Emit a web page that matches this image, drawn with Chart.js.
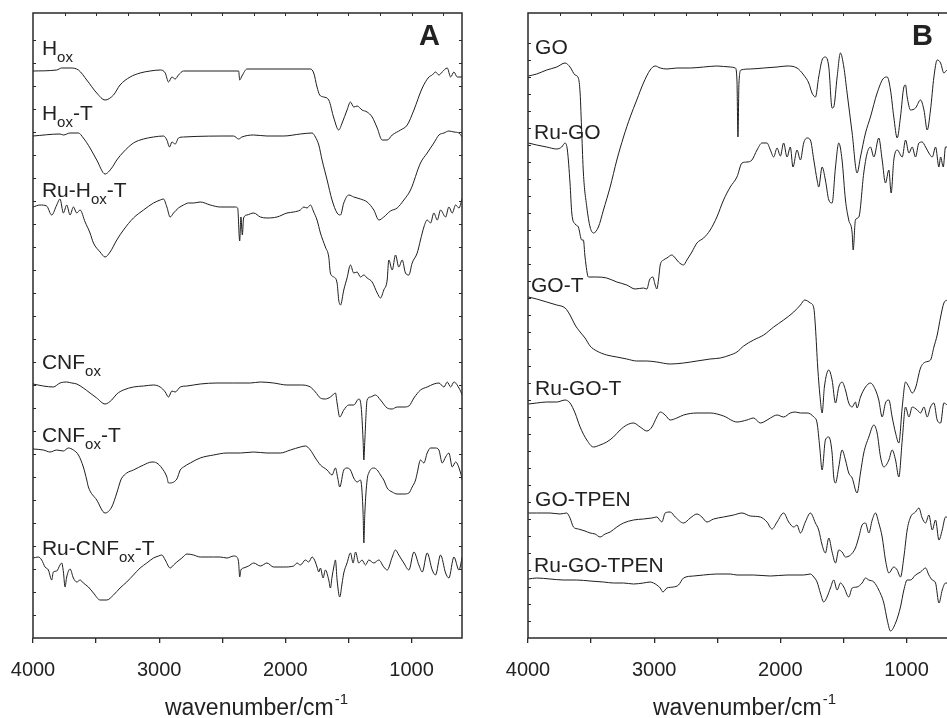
<!DOCTYPE html>
<html>
<head>
<meta charset="utf-8">
<script src="https://cdn.jsdelivr.net/npm/chart.js@4/dist/chart.umd.min.js"></script>
<style>
  html, body { margin: 0; padding: 0; background: #fff; overflow: hidden; }
  body { width: 947px; height: 718px; position: relative; }
  #wrapA { position: absolute; left: 0; top: 0; width: 470px; height: 718px; }
  #wrapB { position: absolute; left: 470px; top: 0; width: 490px; height: 718px; }
</style>
</head>
<body>
<div id="wrapA"><canvas id="chartA" width="470" height="718"></canvas></div>
<div id="wrapB"><canvas id="chartB" width="490" height="718"></canvas></div>
<script>
// ---------- Data (wavenumber in cm-1, transmittance in arbitrary offset units) ----------
const xMajorTicks = [4000, 3500, 3000, 2500, 2000, 1500, 1000];
const xTopTicks = [3750, 3500, 3250, 3000, 2750, 2500, 2250, 2000, 1750, 1500, 1250, 1000, 750];
const axisTitle = 'wavenumber/cm';
const axisTitleSup = '-1';

const namesA = ['H_{ox}', 'H_{ox}-T', 'Ru-H_{ox}-T', 'CNF_{ox}', 'CNF_{ox}-T', 'Ru-CNF_{ox}-T'];
const namesB = ['GO', 'Ru-GO', 'GO-T', 'Ru-GO-T', 'GO-TPEN', 'Ru-GO-TPEN'];

// Panel A
const hox = [[4000,567],[3812,568],[3773,570],[3706,570],[3640,568],[3574,558],[3495,545],[3429,538],[3362,543],[3310,553],[3230,561],[3151,565],[3071,567],[2992,568],[2952,565],[2926,556],[2899,561],[2873,559],[2847,563],[2807,567],[2370,567],[2362,558],[2344,562],[2304,569],[1802,569],[1775,565],[1749,551],[1728,543],[1696,541],[1656,538],[1616,520],[1577,508],[1550,515],[1511,528],[1484,536],[1458,531],[1431,532],[1392,528],[1352,526],[1312,521],[1272,510],[1233,498],[1193,498],[1153,503],[1087,508],[1034,513],[981,528],[915,550],[862,561],[836,563],[810,566],[783,563],[757,566],[717,570],[690,561],[664,566],[638,561],[598,561]];
const hoxT = [[4000,502],[3786,504],[3759,503],[3706,505],[3640,505],[3601,500],[3548,490],[3495,478],[3429,464],[3376,470],[3336,478],[3283,486],[3204,495],[3124,499],[3045,501],[2966,502],[2939,498],[2918,491],[2899,496],[2873,494],[2847,500],[2807,501],[2410,502],[2370,499],[2344,501],[2251,503],[2146,502],[2013,502],[1881,504],[1788,505],[1762,501],[1735,493],[1709,478],[1669,458],[1630,438],[1590,425],[1563,423],[1537,435],[1497,443],[1458,441],[1405,439],[1352,436],[1299,428],[1259,418],[1220,421],[1167,427],[1114,430],[1061,438],[1008,448],[929,475],[876,485],[823,495],[783,503],[743,505],[704,507],[664,506],[624,505],[598,501]];
const ruHoxT = [[4000,431],[3944,433],[3892,432],[3852,423],[3812,433],[3786,439],[3759,425],[3733,433],[3706,423],[3680,431],[3653,425],[3627,428],[3587,416],[3548,405],[3521,395],[3468,386],[3429,381],[3389,386],[3336,398],[3283,408],[3204,420],[3124,428],[3045,435],[2992,438],[2966,439],[2939,431],[2913,421],[2886,425],[2847,430],[2807,433],[2767,435],[2728,435],[2675,436],[2595,433],[2516,431],[2397,431],[2378,430],[2362,397],[2352,421],[2341,403],[2331,420],[2304,423],[2251,425],[2198,421],[2146,420],[2066,421],[1987,425],[1934,426],[1881,428],[1854,431],[1828,430],[1802,433],[1775,426],[1749,418],[1722,405],[1683,391],[1656,381],[1643,365],[1616,361],[1590,355],[1577,338],[1563,333],[1537,348],[1511,360],[1484,373],[1458,365],[1431,366],[1405,361],[1378,363],[1352,360],[1312,356],[1272,345],[1246,340],[1220,348],[1193,358],[1180,378],[1153,368],[1127,383],[1101,371],[1074,378],[1048,365],[1021,363],[995,375],[955,385],[929,398],[902,411],[876,418],[849,415],[823,425],[796,418],[770,428],[730,421],[704,431],[677,425],[651,433],[624,430],[598,440]];
const cnfox = [[4000,254],[3918,252],[3839,251],[3786,255],[3733,256],[3693,255],[3653,254],[3601,250],[3548,245],[3495,240],[3429,234],[3376,238],[3336,244],[3283,248],[3204,251],[3124,252],[3045,253],[2992,251],[2952,246],[2926,241],[2899,247],[2873,246],[2833,251],[2780,252],[2675,254],[2542,255],[2410,255],[2278,255],[2198,256],[2093,255],[1987,253],[1881,253],[1802,251],[1762,246],[1722,240],[1683,239],[1643,241],[1616,244],[1603,245],[1590,235],[1569,221],[1537,228],[1497,233],[1458,233],[1418,239],[1399,231],[1384,198],[1378,178],[1370,198],[1352,238],[1325,241],[1286,243],[1246,238],[1193,230],[1153,229],[1114,231],[1061,231],[1021,232],[981,240],[929,248],[876,251],[823,254],[783,255],[743,251],[717,256],[690,251],[664,256],[624,250],[598,243]];
const cnfoxT = [[4000,189],[3918,188],[3865,186],[3812,188],[3759,187],[3720,190],[3680,188],[3640,183],[3601,171],[3574,158],[3561,151],[3495,138],[3429,125],[3376,131],[3336,145],[3304,158],[3296,160],[3257,165],[3204,168],[3124,173],[3058,176],[3019,175],[2979,170],[2939,161],[2926,155],[2860,159],[2833,168],[2807,171],[2754,175],[2675,180],[2569,183],[2463,185],[2357,185],[2251,186],[2146,185],[2040,185],[1960,188],[1881,191],[1841,192],[1802,188],[1762,180],[1722,173],[1669,168],[1630,163],[1603,170],[1585,160],[1569,151],[1537,168],[1511,170],[1484,168],[1458,160],[1431,156],[1405,158],[1384,125],[1378,95],[1370,125],[1352,158],[1339,165],[1299,170],[1272,168],[1246,163],[1220,158],[1193,150],[1153,146],[1114,144],[1061,144],[1021,145],[995,151],[968,158],[955,165],[929,178],[902,175],[876,185],[849,190],[810,190],[783,188],[757,175],[730,181],[704,185],[677,171],[651,176],[611,165],[598,158]];
const ruCnfoxT = [[4000,80],[3958,81],[3931,78],[3905,71],[3878,68],[3852,58],[3839,66],[3812,67],[3786,73],[3772,75],[3759,66],[3746,51],[3733,61],[3706,69],[3680,60],[3653,56],[3627,58],[3601,55],[3561,51],[3521,45],[3468,38],[3415,38],[3362,43],[3310,50],[3257,56],[3204,63],[3151,70],[3098,75],[3045,80],[3005,82],[2979,83],[2952,78],[2913,70],[2886,73],[2860,76],[2820,80],[2780,84],[2728,83],[2675,81],[2569,81],[2516,81],[2463,80],[2410,82],[2384,81],[2370,75],[2362,61],[2352,68],[2331,70],[2291,72],[2251,75],[2198,72],[2146,75],[2093,71],[2013,71],[1934,72],[1907,75],[1881,73],[1841,78],[1815,76],[1788,81],[1762,76],[1749,71],[1735,66],[1722,70],[1701,60],[1683,68],[1656,58],[1643,50],[1630,61],[1616,71],[1603,78],[1590,58],[1569,41],[1550,55],[1537,65],[1511,75],[1484,85],[1463,75],[1444,86],[1418,75],[1392,78],[1365,73],[1339,78],[1299,75],[1259,78],[1220,71],[1193,68],[1153,81],[1127,88],[1101,83],[1061,75],[1021,68],[981,86],[942,73],[915,66],[876,85],[836,68],[810,63],[770,83],[730,65],[704,60],[664,81],[624,68],[598,81]];

// Panel B
const go = [[3997,562],[3931,564],[3852,568],[3772,571],[3706,575],[3667,571],[3627,563],[3601,560],[3587,545],[3574,505],[3561,465],[3534,431],[3508,411],[3481,405],[3442,411],[3402,428],[3349,451],[3296,478],[3243,501],[3190,521],[3138,538],[3085,555],[3032,568],[2992,572],[2952,570],[2899,569],[2820,570],[2714,570],[2608,571],[2503,572],[2397,571],[2357,570],[2344,558],[2336,501],[2328,555],[2312,568],[2238,569],[2132,570],[2026,571],[1947,572],[1868,570],[1815,563],[1775,555],[1749,545],[1722,541],[1696,561],[1669,578],[1643,581],[1616,571],[1590,530],[1577,531],[1550,561],[1524,585],[1497,571],[1471,545],[1431,505],[1392,465],[1365,481],[1325,505],[1286,521],[1233,545],[1180,560],[1153,561],[1127,548],[1101,521],[1074,500],[1048,521],[1021,551],[1008,553],[995,541],[968,528],[929,530],[889,538],[862,528],[836,508],[810,528],[783,561],[757,578],[730,575],[704,565],[677,568],[600,566]];
const ruGo = [[3997,495],[3931,493],[3852,491],[3772,489],[3733,491],[3706,495],[3688,488],[3667,455],[3653,425],[3627,414],[3601,411],[3574,398],[3561,398],[3548,381],[3521,361],[3455,361],[3376,360],[3296,356],[3217,353],[3151,349],[3085,350],[3058,349],[3037,358],[3011,361],[2992,353],[2979,349],[2966,358],[2952,373],[2926,378],[2899,380],[2860,383],[2833,380],[2807,376],[2767,373],[2741,378],[2701,386],[2661,395],[2608,400],[2556,408],[2503,421],[2450,438],[2397,451],[2344,461],[2304,475],[2265,476],[2225,478],[2185,488],[2145,495],[2106,495],[2079,488],[2053,481],[2026,490],[2000,482],[1974,495],[1947,481],[1921,491],[1900,471],[1868,488],[1841,478],[1815,495],[1788,500],[1762,498],[1735,478],[1709,458],[1696,451],[1669,471],[1643,458],[1616,438],[1590,435],[1563,471],[1537,495],[1511,478],[1484,438],[1458,418],[1431,405],[1423,388],[1405,418],[1378,421],[1339,465],[1312,485],[1286,491],[1259,481],[1220,500],[1193,478],[1167,455],[1140,468],[1122,445],[1101,478],[1074,488],[1034,481],[1008,498],[981,485],[955,491],[929,481],[902,495],[876,496],[849,491],[823,485],[796,481],[770,491],[743,471],[730,481],[709,471],[691,491],[677,491],[600,488]];
const goT = [[3997,341],[3931,339],[3852,336],[3772,333],[3706,330],[3667,323],[3627,313],[3587,306],[3548,300],[3508,292],[3455,287],[3376,283],[3296,281],[3217,279],[3138,277],[3058,277],[2979,276],[2873,274],[2767,275],[2661,277],[2556,279],[2476,280],[2397,283],[2344,286],[2291,292],[2212,298],[2132,303],[2053,311],[1974,318],[1894,326],[1841,333],[1807,338],[1762,335],[1735,330],[1722,311],[1704,271],[1683,238],[1669,225],[1651,251],[1616,268],[1590,258],[1563,235],[1537,251],[1511,256],[1484,248],[1458,235],[1431,231],[1405,236],[1392,230],[1365,241],[1325,251],[1286,255],[1246,248],[1220,238],[1193,221],[1167,235],[1140,238],[1114,221],[1087,205],[1061,195],[1034,231],[1008,256],[981,251],[955,245],[929,250],[889,270],[849,276],[810,278],[783,291],[757,303],[730,321],[704,335],[677,338],[600,345]];
const ruGoT = [[3997,234],[3931,235],[3852,236],[3772,236],[3706,238],[3667,235],[3627,225],[3587,211],[3534,198],[3481,191],[3429,193],[3376,196],[3323,201],[3270,208],[3217,213],[3164,215],[3111,211],[3058,207],[3018,211],[2979,221],[2952,226],[2913,223],[2873,218],[2820,220],[2767,223],[2661,225],[2556,225],[2450,222],[2344,216],[2265,218],[2212,220],[2159,215],[2132,216],[2079,220],[2026,223],[1974,221],[1921,225],[1881,226],[1841,225],[1788,225],[1735,221],[1709,215],[1688,191],[1669,168],[1643,198],[1616,201],[1590,185],[1577,161],[1563,155],[1537,171],[1511,188],[1484,178],[1458,165],[1431,160],[1392,145],[1365,165],[1339,185],[1299,201],[1259,213],[1233,205],[1206,181],[1180,171],[1140,178],[1114,188],[1087,178],[1061,161],[1034,198],[1008,231],[981,221],[955,231],[915,228],[889,225],[862,231],[836,221],[810,231],[783,235],[757,218],[730,215],[704,235],[677,233],[600,230]];
const goTpen = [[3997,125],[3931,125],[3825,125],[3746,124],[3693,125],[3667,120],[3640,111],[3601,109],[3548,107],[3508,105],[3468,104],[3429,101],[3389,104],[3349,106],[3296,111],[3243,115],[3164,118],[3085,119],[3018,120],[2979,121],[2939,116],[2913,125],[2873,126],[2833,121],[2767,115],[2714,120],[2661,124],[2622,121],[2582,116],[2529,119],[2450,121],[2370,123],[2304,125],[2238,122],[2159,121],[2106,116],[2066,109],[2026,116],[1974,125],[1934,116],[1894,111],[1868,113],[1841,105],[1802,116],[1762,125],[1722,115],[1696,108],[1669,93],[1643,85],[1616,100],[1590,86],[1563,75],[1537,88],[1511,86],[1484,81],[1444,83],[1405,90],[1378,101],[1352,113],[1325,115],[1299,105],[1272,118],[1246,125],[1220,115],[1193,101],[1167,78],[1140,65],[1101,71],[1074,68],[1048,61],[1021,81],[995,108],[968,121],[929,126],[902,130],[876,120],[849,115],[823,123],[796,108],[770,118],[743,98],[717,108],[691,121],[600,118]];
const ruGoTpen = [[3997,59],[3931,60],[3825,59],[3720,58],[3614,58],[3508,57],[3402,56],[3323,55],[3243,55],[3164,54],[3085,55],[3032,56],[3005,55],[2979,53],[2952,50],[2931,46],[2899,50],[2847,51],[2807,53],[2767,60],[2688,62],[2608,63],[2503,64],[2397,64],[2344,63],[2212,63],[2079,62],[1947,63],[1815,63],[1762,64],[1735,61],[1709,56],[1683,45],[1656,36],[1630,41],[1603,50],[1577,58],[1550,48],[1524,55],[1497,51],[1458,41],[1431,50],[1392,51],[1352,55],[1325,60],[1299,58],[1259,56],[1220,48],[1180,35],[1153,18],[1127,7],[1087,15],[1048,31],[1021,48],[995,58],[968,58],[929,63],[889,66],[849,70],[823,63],[796,58],[770,55],[743,35],[717,48],[691,55],[600,52]];

const seriesA = [hox, hoxT, ruHoxT, cnfox, cnfoxT, ruCnfoxT];
const seriesB = [go, ruGo, goT, ruGoT, goTpen, ruGoTpen];

// ---------- Rendering ----------
const FONT = "'Liberation Sans', Arial, Helvetica, sans-serif";
const INK = '#1e1e1e';

function parseRich(s) {
  const parts = [];
  const re = /_\{([^}]*)\}/g;
  let last = 0, m;
  while ((m = re.exec(s)) !== null) {
    if (m.index > last) parts.push({t: s.slice(last, m.index), sub: false});
    parts.push({t: m[1], sub: true});
    last = re.lastIndex;
  }
  if (last < s.length) parts.push({t: s.slice(last), sub: false});
  return parts;
}
function plainName(s) { return s.replace(/_\{([^}]*)\}/g, '$1'); }

function drawRich(ctx, s, x, y, size, subSize, subDrop) {
  let cx = x;
  for (const p of parseRich(s)) {
    ctx.font = (p.sub ? subSize : size) + 'px ' + FONT;
    ctx.fillText(p.t, cx, p.sub ? y + subDrop : y);
    cx += ctx.measureText(p.t).width;
  }
}

const framePlugin = {
  id: 'frame',
  afterDatasetsDraw(chart, args, o) {
    const {ctx, chartArea: a} = chart;
    const x = chart.scales.x, y = chart.scales.y;
    ctx.save();
    ctx.strokeStyle = '#2a2a2a';
    ctx.lineWidth = 1.5;
    ctx.strokeRect(a.left, a.top, a.right - a.left, a.bottom - a.top);
    ctx.lineWidth = 1;
    ctx.beginPath();
    for (const v of xTopTicks) {
      const px = Math.round(x.getPixelForValue(v)) + 0.5;
      ctx.moveTo(px, a.top); ctx.lineTo(px, a.top + 3);
    }
    for (const t of y.ticks) {
      const py = Math.round(y.getPixelForValue(t.value)) + 0.5;
      if (py <= a.top + 2 || py >= a.bottom - 2) continue;
      ctx.moveTo(a.left, py); ctx.lineTo(a.left + 3, py);
      ctx.moveTo(a.right, py); ctx.lineTo(a.right - 3, py);
    }
    ctx.stroke();

    // series labels
    ctx.fillStyle = '#222';
    ctx.textBaseline = 'alphabetic';
    ctx.textAlign = 'left';
    o.names.forEach((name, i) => {
      const pos = o.labelPos[i];
      drawRich(ctx, name, x.getPixelForValue(pos[0]), y.getPixelForValue(pos[1]), 21, 15, 7);
    });

    // panel letter
    ctx.font = 'bold 29px ' + FONT;
    ctx.textAlign = 'right';
    ctx.fillText(o.letter, a.right - o.letterInset, a.top + 32);

    // axis title with superscript
    ctx.textAlign = 'left';
    ctx.font = '23px ' + FONT;
    const w1 = ctx.measureText(axisTitle).width;
    ctx.font = '15px ' + FONT;
    const w2 = ctx.measureText(axisTitleSup).width;
    const start = o.titleCenter - (w1 + w2) / 2;
    ctx.font = '23px ' + FONT;
    ctx.fillText(axisTitle, start, 715);
    ctx.font = '15px ' + FONT;
    ctx.fillText(axisTitleSup, start + w1 + 1, 704);
    ctx.restore();
  }
};

function makeChart(id, series, names, cfg) {
  const datasets = series.map((arr, i) => ({
    label: plainName(names[i]),
    data: arr.map(([wx, v]) => ({x: wx, y: v})),
    borderColor: INK,
    borderWidth: 1,
    pointRadius: 0,
    fill: false,
    cubicInterpolationMode: 'monotone'
  }));
  return new Chart(document.getElementById(id), {
    type: 'line',
    data: {datasets},
    options: {
      responsive: false,
      animation: false,
      devicePixelRatio: 1,
      layout: {padding: {top: 13, right: cfg.padRight, left: 0, bottom: 0}},
      plugins: {
        legend: {display: false},
        tooltip: {enabled: false},
        frame: {names, labelPos: cfg.labelPos, letter: cfg.letter, letterInset: cfg.letterInset, titleCenter: cfg.titleCenter}
      },
      scales: {
        x: {
          type: 'linear', reverse: true, min: 600, max: 4000,
          afterBuildTicks: s => { s.ticks = xMajorTicks.map(v => ({value: v})); },
          afterFit: s => { s.height = 80; s.paddingLeft = 0; s.paddingRight = 0; },
          ticks: {
            autoSkip: false, maxRotation: 0, minRotation: 0, padding: 15,
            color: '#222', font: {family: FONT, size: 20},
            callback: v => (v % 1000 === 0 ? String(v) : '')
          },
          grid: {drawOnChartArea: false, drawTicks: true, tickLength: 5, color: '#2a2a2a', lineWidth: 1.3},
          border: {display: false}
        },
        y: {
          min: 0, max: 625,
          afterFit: s => { s.width = cfg.left; },
          ticks: {display: false, stepSize: cfg.yStep},
          grid: {display: false},
          border: {display: false}
        }
      }
    },
    plugins: [framePlugin]
  });
}

makeChart('chartA', seriesA, namesA, {
  left: 33, padRight: 8, yStep: 23, letter: 'A', letterInset: 22, titleCenter: 256,
  labelPos: [[3929,583],[3929,518],[3929,441],[3929,269],[3929,196],[3929,83]]
});
makeChart('chartB', seriesB, namesB, {
  left: 58, padRight: 3, yStep: 17, letter: 'B', letterInset: 24, titleCenter: 274,
  labelPos: [[3944,584],[3952,499],[3976,346],[3944,243],[3944,132],[3952,66]]
});
</script>
</body>
</html>
